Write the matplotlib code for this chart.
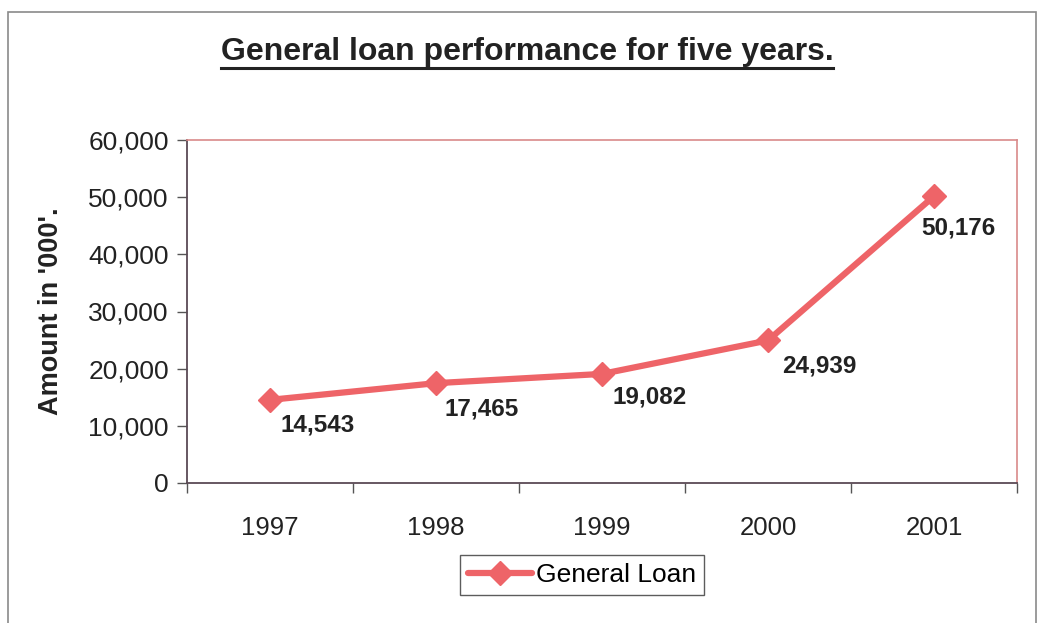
import matplotlib
matplotlib.use("Agg")
import matplotlib.pyplot as plt
from matplotlib.patches import Rectangle
from matplotlib.lines import Line2D
from matplotlib.ticker import FuncFormatter, FixedLocator, NullFormatter

years = ["1997", "1998", "1999", "2000", "2001"]
loan = [14543, 17465, 19082, 24939, 50176]
title = "General loan performance for five years."
ylabel = "Amount in '000'."
series_name = "General Loan"

plt.rcParams['font.family'] = ['Liberation Sans', 'DejaVu Sans']

W, H = 1044, 623
fig = plt.figure(figsize=(W / 100, H / 100), dpi=100)
fig.patch.set_facecolor('white')

# outer chart frame
fig.add_artist(Rectangle((8 / W, -0.02), (1036 - 8) / W, (H - 12) / H + 0.02,
                         transform=fig.transFigure, fill=False,
                         edgecolor='#8a8a8a', linewidth=1.2))

ax = fig.add_axes([187 / W, 1 - 483 / H, (1017 - 187) / W, (483 - 140) / H])
line_color = '#EE6468'
x = list(range(len(years)))
ax.plot(x, loan, color=line_color, linewidth=4.5, marker='D', markersize=12,
        markerfacecolor=line_color, markeredgecolor=line_color,
        label=series_name, solid_capstyle='round')

ax.set_xlim(-0.5, len(years) - 0.5)
ax.set_ylim(0, 60000)
ax.yaxis.set_major_locator(FixedLocator(range(0, 60001, 10000)))
ax.yaxis.set_major_formatter(FuncFormatter(lambda v, p: f"{int(v):,}"))
ax.xaxis.set_major_locator(FixedLocator([i - 0.5 for i in range(len(years) + 1)]))
ax.xaxis.set_major_formatter(NullFormatter())
ax.xaxis.set_minor_locator(FixedLocator(x))
ax.set_xticks(x, years, minor=True)
ax.tick_params(axis='x', which='minor', length=0, pad=24, labelsize=18.5, colors='#222222')
ax.tick_params(axis='x', which='major', length=7, width=1, direction='out', color='#555555')
ax.tick_params(axis='y', length=7, width=1, direction='out', labelsize=19, pad=6,
               color='#555555', labelcolor='#222222')

for s in ['top', 'right']:
    ax.spines[s].set_color('#D98A8A')
    ax.spines[s].set_linewidth(1.2)
for s in ['left', 'bottom']:
    ax.spines[s].set_color('#5a4a55')
    ax.spines[s].set_linewidth(1.3)

ax.set_ylabel(ylabel, fontsize=19.5, fontweight='bold', color='#222222')
ax.yaxis.set_label_coords((64 - 187) / (1017 - 187), 0.5)

# data labels
offsets = [(10, -14), (8, -14), (10, -12), (14, -14), (-13, -20)]
for xi, v, (dx, dy) in zip(x, loan, offsets):
    ax.annotate(f"{v:,}", (xi, v), xytext=(dx, dy), textcoords='offset pixels',
                ha='left', va='top', fontsize=17.5, fontweight='bold', color='#222222')

leg = fig.legend(loc='center', bbox_to_anchor=(582 / W, 1 - 575 / H), fontsize=19,
                 frameon=True, fancybox=False, edgecolor='#333333',
                 handlelength=2.4, handletextpad=0.15, borderpad=0.3)
leg.get_frame().set_linewidth(1.0)

t = fig.text(527 / W, 1 - 52 / H, title, ha='center', va='center', fontsize=23,
             fontweight='bold', color='#222222')
fig.canvas.draw()
bb = t.get_window_extent()
uy = (bb.y0 - 1) / H
fig.add_artist(Line2D([bb.x0 / W, bb.x1 / W], [uy, uy], transform=fig.transFigure,
                      color='#222222', linewidth=2.2))

fig.savefig("out.png", dpi=100, facecolor='white')
